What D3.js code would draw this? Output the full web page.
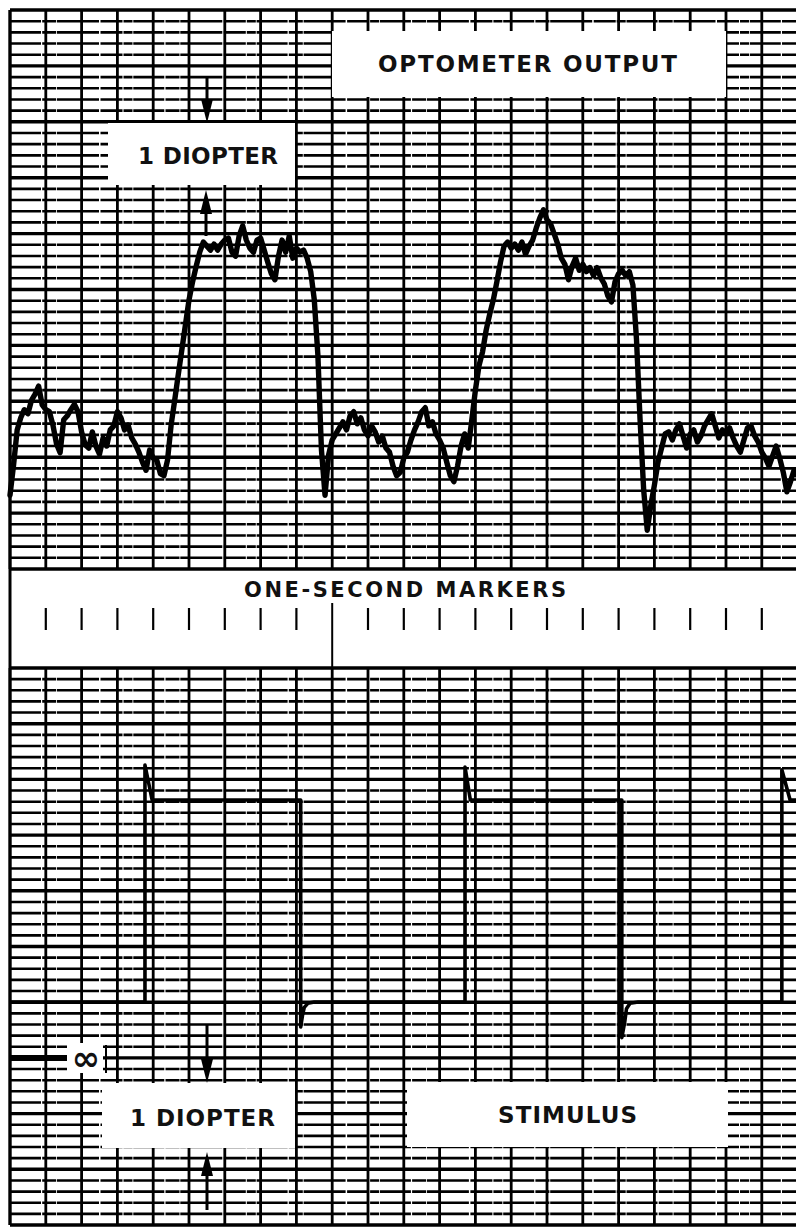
<!DOCTYPE html>
<html>
<head>
<meta charset="utf-8">
<script src="https://cdn.jsdelivr.net/npm/d3@7"></script>
<style>
  html, body { margin: 0; padding: 0; background: #fff; }
  svg { display: block; }
  text { font-family: "DejaVu Sans", "Liberation Sans", sans-serif; font-weight: bold; fill: #111; }
</style>
</head>
<body>
<svg id="chart" width="796" height="1228"></svg>
<script>
// ---- Recorded data ---------------------------------------------------------
// Optometer output (accommodation, diopters relative to resting level),
// one sample every 0.1 s over 22 s of recording.
const sampleInterval = 0.1;
const optometerOutput = [
  -0.82,
  -0.37, 0.15, 0.33, 0.45, 0.39, 0.59, 0.68, 0.80, 0.52, 0.45,
  0.42, 0.22, -0.06, -0.19, 0.30, 0.36, 0.45, 0.53, 0.42, 0.12,
  -0.07, -0.12, 0.12, -0.09, -0.21, 0.03, -0.09, 0.15, 0.21, 0.42,
  0.33, 0.15, 0.22, 0.03, -0.06, -0.18, -0.33, -0.45, -0.15, -0.27,
  -0.30, -0.50, -0.53, -0.30, 0.22, 0.59, 0.97, 1.34, 1.71, 2.08,
  2.35, 2.58, 2.79, 2.94, 2.88, 2.82, 2.91, 2.82, 2.91, 2.97,
  3.00, 2.79, 2.73, 3.03, 3.18, 2.97, 2.85, 2.79, 2.97, 3.00,
  2.82, 2.64, 2.47, 2.38, 2.73, 2.97, 2.79, 3.03, 2.70, 2.85,
  2.79, 2.82, 2.70, 2.50, 2.08, 1.26, -0.15, -0.82, -0.22, 0.00,
  0.09, 0.18, 0.27, 0.15, 0.36, 0.42, 0.24, 0.33, 0.15, 0.06,
  0.21, 0.12, -0.03, 0.06, -0.12, -0.18, -0.39, -0.53, -0.48, -0.27,
  -0.18, 0.00, 0.15, 0.27, 0.42, 0.48, 0.21, 0.27, 0.09, 0.00,
  -0.12, -0.33, -0.53, -0.62, -0.39, -0.09, 0.09, -0.12, 0.30, 0.74,
  1.10, 1.31, 1.63, 1.87, 2.08, 2.35, 2.64, 2.88, 2.94, 2.85,
  2.91, 2.82, 2.94, 2.76, 2.88, 2.97, 3.15, 3.30, 3.42, 3.27,
  3.21, 3.06, 2.91, 2.70, 2.61, 2.38, 2.58, 2.70, 2.52, 2.61,
  2.50, 2.56, 2.44, 2.56, 2.41, 2.32, 2.14, 2.05, 2.35, 2.47,
  2.52, 2.44, 2.50, 2.30, 1.49, 0.30, -0.74, -1.34, -0.97, -0.67,
  -0.33, -0.12, 0.09, 0.12, 0.00, 0.15, 0.24, 0.06, -0.12, 0.09,
  0.15, -0.03, 0.06, 0.21, 0.30, 0.39, 0.21, 0.03, 0.15, 0.09,
  0.18, 0.03, -0.09, -0.18, 0.00, 0.18, 0.21, 0.06, -0.03, -0.18,
  -0.27, -0.39, -0.24, -0.09, -0.27, -0.48, -0.77, -0.62, -0.45, -0.53
];

// Stimulus vergence (diopters): step changes with pen overshoot / undershoot.
const stimulusTimes = [
  0, 3.77, 3.77, 3.97, 8.12, 8.12, 8.17, 8.22, 8.32, 8.50,
  12.71, 12.71, 12.86, 17.09, 17.09, 17.17, 17.22, 17.32, 17.55,
  21.56, 21.56, 21.79, 22.2
];
const stimulusValues = [
  0, 0, 3.52, 3.0, 3.0, -0.37, -0.20, -0.08, -0.02, 0,
  0, 3.49, 3.0, 3.0, -0.53, -0.30, -0.10, -0.02, 0,
  0, 3.45, 3.0, 3.0
];

// One-second timing marks; the long one flags an event.
const markerSeconds = d3.range(1, 22);
const eventMarkerSecond = 9;

// Far-point (infinity) reference level of the stimulus channel, diopters
const infinityLevel = -0.83;

// ---- Layout & scales -------------------------------------------------------
const svg = d3.select("#chart");
const W = 796;
const PX_PER_DIOPTER = 67.33;

const x = d3.scaleLinear().domain([0, 22]).range([10, 10 + 22 * 35.8]);

const topPanel = { top: 10, bottom: 569 };
const botPanel = { top: 668, bottom: 1225 };

const yTop = d3.scaleLinear().domain([0, 1]).range([440, 440 - PX_PER_DIOPTER]);
const yBot = d3.scaleLinear().domain([0, 1]).range([1002, 1002 - PX_PER_DIOPTER]);

// ---- Chart-paper grid -----------------------------------------------------
function drawGrid(panel) {
  const g = svg.append("g");
  const row = d3.scaleLinear().domain([0, 50]).range([panel.top, panel.bottom]);
  d3.range(0, 51).forEach(r => {
    const major = r % 5 === 0;
    g.append("line")
      .attr("x1", 10).attr("x2", W)
      .attr("y1", row(r)).attr("y2", row(r))
      .attr("stroke", "#000")
      .attr("stroke-width", major ? 3.4 : 2.6)
      .attr("stroke-dasharray", major ? null : "31,1.2,14,0.8,42,1.5,22,1,9,0.8");
  });
  d3.range(0, 23).forEach(s => {
    g.append("line")
      .attr("x1", x(s)).attr("x2", x(s))
      .attr("y1", panel.top).attr("y2", panel.bottom)
      .attr("stroke", "#000")
      .attr("stroke-width", 2.8);
  });
}
drawGrid(topPanel);
drawGrid(botPanel);

// left edge of the strip runs through the marker band
svg.append("line")
  .attr("x1", 10).attr("x2", 10)
  .attr("y1", topPanel.top).attr("y2", botPanel.bottom)
  .attr("stroke", "#000").attr("stroke-width", 3);

// ---- Label boxes -----------------------------------------------------------
function box(x0, y0, x1, y1) {
  svg.append("rect")
    .attr("x", x0).attr("y", y0)
    .attr("width", x1 - x0).attr("height", y1 - y0)
    .attr("fill", "#fff");
}
box(332, 31, 726, 97);     // optometer output title
box(108, 123, 295, 185);   // top scale label
box(102, 1083, 295, 1148); // bottom scale label
box(407, 1082, 728, 1147); // stimulus title
box(67, 1043, 103, 1073);  // infinity mark

// ---- Traces ----------------------------------------------------------------
const outLine = d3.line()
  .x((d, i) => x(i * sampleInterval))
  .y(d => yTop(d));

svg.append("path")
  .datum(optometerOutput)
  .attr("d", outLine)
  .attr("fill", "none")
  .attr("stroke", "#000")
  .attr("stroke-width", 5.4)
  .attr("stroke-linejoin", "round")
  .attr("stroke-linecap", "round");

const stimLine = d3.line()
  .x(d => x(d[0]))
  .y(d => yBot(d[1]));

svg.append("path")
  .datum(d3.zip(stimulusTimes, stimulusValues))
  .attr("d", stimLine)
  .attr("fill", "none")
  .attr("stroke", "#000")
  .attr("stroke-width", 3.6)
  .attr("stroke-linejoin", "round");

// infinity reference bar
svg.append("line")
  .attr("x1", 10).attr("x2", 67)
  .attr("y1", yBot(infinityLevel)).attr("y2", yBot(infinityLevel))
  .attr("stroke", "#000").attr("stroke-width", 6);
svg.append("line")
  .attr("x1", 106).attr("x2", 106)
  .attr("y1", 1045).attr("y2", 1073)
  .attr("stroke", "#000").attr("stroke-width", 2);
svg.append("text")
  .attr("x", 86).attr("y", yBot(infinityLevel))
  .attr("text-anchor", "middle")
  .attr("dominant-baseline", "central")
  .style("font-size", "34px")
  .text("∞");

// ---- One-second markers ----------------------------------------------------
svg.append("g").selectAll("line")
  .data(markerSeconds)
  .join("line")
  .attr("x1", d => x(d)).attr("x2", d => x(d))
  .attr("y1", d => d === eventMarkerSecond ? 603 : 608)
  .attr("y2", d => d === eventMarkerSecond ? botPanel.top : 630)
  .attr("stroke", "#000")
  .attr("stroke-width", d => d === eventMarkerSecond ? 2 : 2.2);

// ---- Text ------------------------------------------------------------------
function label(txt, x0, x1, cy, size) {
  svg.append("text")
    .attr("x", x0).attr("y", cy)
    .attr("dominant-baseline", "central")
    .attr("textLength", x1 - x0)
    .attr("lengthAdjust", "spacing")
    .style("font-size", size + "px")
    .text(txt);
}
label("OPTOMETER OUTPUT", 378, 677, 64, 23);
label("1 DIOPTER", 138, 278, 156, 23);
label("ONE-SECOND MARKERS", 244, 566, 590, 21);
label("1 DIOPTER", 130, 275, 1118, 23);
label("STIMULUS", 498, 637, 1115, 23);

// ---- Scale arrows (1 diopter) ---------------------------------------------
function arrow(cx, tail, tip) {
  const dir = tip > tail ? 1 : -1;
  const headLen = 24, halfW = 6;
  svg.append("line")
    .attr("x1", cx).attr("x2", cx)
    .attr("y1", tail).attr("y2", tip - dir * headLen)
    .attr("stroke", "#000").attr("stroke-width", 3);
  svg.append("path")
    .attr("d", `M${cx - halfW},${tip - dir * headLen} L${cx + halfW},${tip - dir * headLen} L${cx},${tip} Z`)
    .attr("fill", "#000");
}
arrow(207, 77, 123);
arrow(206, 236, 190);
arrow(207, 1025, 1083);
arrow(207, 1210, 1152);
</script>
</body>
</html>
